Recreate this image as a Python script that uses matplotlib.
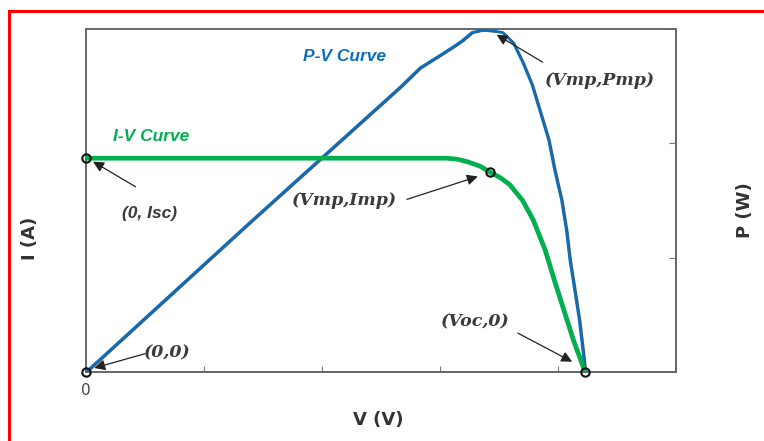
import numpy as np
import matplotlib.pyplot as plt
from matplotlib import transforms

# Curve data ---------------------------------------------------------------

# I-V curve: voltage (V) and current (A)
iv_v = [0.0, 1.81, 3.06, 3.15, 3.23, 3.34, 3.42, 3.51, 3.59, 3.70, 3.79,
        3.89, 3.97, 4.05, 4.13, 4.23]
iv_i = [1.87, 1.87, 1.87, 1.86, 1.84, 1.80, 1.75, 1.70, 1.64, 1.50, 1.33,
        1.07, 0.80, 0.54, 0.28, 0.0]

# P-V curve: voltage (V) and power (W, scaled)
pv_v = [0.0, 1.39, 2.66, 2.83, 3.00, 3.12, 3.19, 3.27, 3.36, 3.47, 3.53,
        3.62, 3.70, 3.78, 3.85, 3.92, 3.97, 4.03, 4.07, 4.10, 4.14, 4.18,
        4.21, 4.23]
pv_p = [0.0, 1.31, 2.49, 2.66, 2.77, 2.85, 2.90, 2.97, 2.99, 2.98, 2.97,
        2.88, 2.71, 2.51, 2.27, 2.03, 1.77, 1.50, 1.24, 0.98, 0.72, 0.45,
        0.19, 0.0]

# Key points
isc = 1.87
vmp, imp = 3.42, 1.75
voc = 4.23

blue = '#0a6ebd'
green = '#00b04f'
label_gray = '#3a3a3a'

#---------------------------------------------------------------------------


# Figure -------------------------------------------------------------------

fig = plt.figure(figsize=(7.64, 4.41), dpi=100)
ax = fig.add_axes([86/764, 69/441, 590/764, 343/441])

# faint dark edge under each curve
shadow = transforms.offset_copy(ax.transData, fig=fig, x=0.9, y=-0.4, units='points')
ax.plot(pv_v, pv_p, color='#555555', lw=1.4, transform=shadow, zorder=2)
ax.plot(iv_v, iv_i, color='#555555', lw=1.4, transform=shadow, zorder=2)

ax.plot(pv_v, pv_p, color=blue, lw=1.9, solid_joinstyle='round',
        solid_capstyle='round', zorder=3)
ax.plot(iv_v, iv_i, color=green, lw=3.4, solid_joinstyle='round',
        solid_capstyle='round', zorder=4)

# open circles at the key points
ax.plot([0, 0, vmp, voc], [0, isc, imp, 0], 'o', ms=6, mfc='none',
        mec='#111111', mew=1.5, zorder=5, clip_on=False)

# annotations
arrow = dict(arrowstyle='-|>', color='#222222', lw=0.9, mutation_scale=16,
             shrinkA=0, shrinkB=0)
serif = dict(family='DejaVu Serif', weight='bold', style='italic',
             fontsize=12.5, color=label_gray, ha='center', va='center')
sans = dict(family='Liberation Sans', weight='bold', style='italic',
            fontsize=12.5, ha='center', va='center')

ax.annotate('', xy=(0.06, 1.84), xytext=(0.42, 1.62), arrowprops=arrow)
ax.text(0.54, 1.39, '(0, Isc)', color=label_gray, **sans)

ax.annotate('', xy=(3.32, 1.71), xytext=(2.72, 1.51), arrowprops=arrow)
ax.text(2.19, 1.50, '(Vmp,Imp)', **serif)

ax.annotate('', xy=(3.48, 2.95), xytext=(3.87, 2.71), arrowprops=arrow)
ax.text(4.36, 2.55, '(Vmp,Pmp)', **serif)

ax.annotate('', xy=(4.12, 0.09), xytext=(3.66, 0.34), arrowprops=arrow)
ax.text(3.30, 0.44, '(Voc,0)', **serif)

ax.annotate('', xy=(0.07, 0.035), xytext=(0.50, 0.16), arrowprops=arrow)
ax.text(0.69, 0.17, '(0,0)', **serif)

# curve names
ax.text(2.19, 2.76, 'P-V Curve', color=blue, **sans)
ax.text(0.55, 2.06, 'I-V Curve', color=green, **sans)

# axes styling
ax.set_xlim(0, 5)
ax.set_ylim(0, 3)
ax.set_xticks([0, 1, 2, 3, 4, 5])
ax.set_xticklabels(['0', '', '', '', '', ''])
ax.set_yticks([0, 1, 2, 3])
ax.set_yticklabels([])
ax.tick_params(axis='x', direction='in', length=4, color='#777777',
               labelsize=11, labelcolor='#444444', pad=8)
ax.tick_params(axis='y', direction='in', left=False, right=True,
               length=5, color='#777777')
for side in ax.spines.values():
    side.set_color('#666666')
    side.set_linewidth(1.4)

fig.text(378/764, 1 - 420/441, 'V (V)', family='DejaVu Sans', weight='bold',
         fontsize=13, color='#333333', ha='center', va='center')
fig.text(30/764, 1 - 238/441, 'I (A)', family='DejaVu Sans', weight='bold',
         fontsize=13, color='#333333', ha='center', va='center', rotation=90)
fig.text(745/764, 1 - 210/441, 'P (W)', family='DejaVu Sans', weight='bold',
         fontsize=13, color='#333333', ha='center', va='center', rotation=90)

# red frame on left and top
fig.add_artist(plt.Line2D([9/764, 9/764], [0, 1 - 11/441], color='red', lw=2.2))
fig.add_artist(plt.Line2D([9/764, 1], [1 - 11/441, 1 - 11/441], color='red', lw=2.2))

fig.savefig('out.png', dpi=100)

#---------------------------------------------------------------------------
